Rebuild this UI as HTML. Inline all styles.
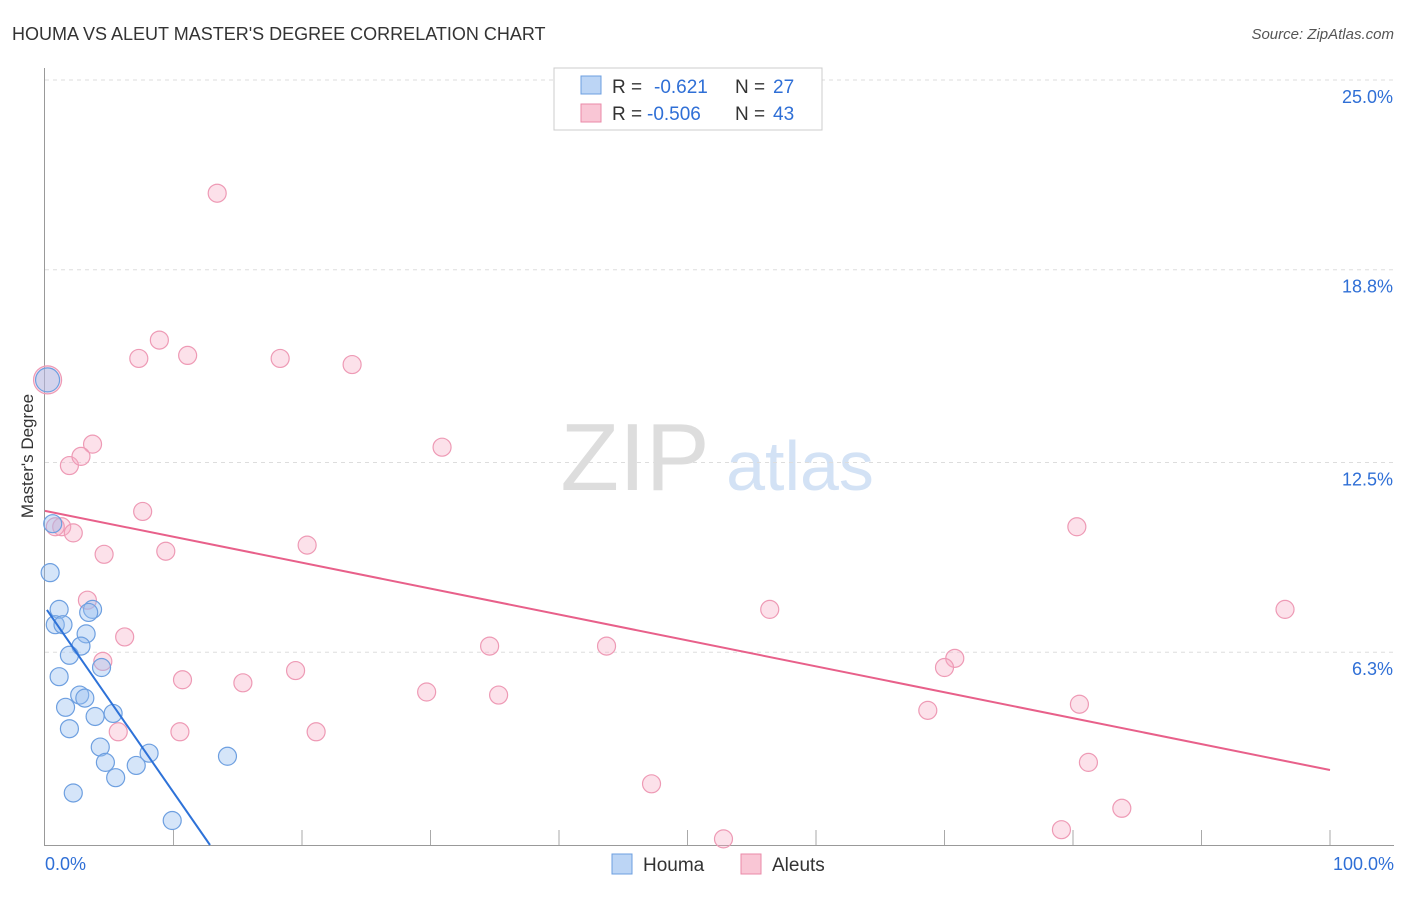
<!DOCTYPE html>
<html><head><meta charset="utf-8"><style>
body{margin:0;background:#fff;font-family:"Liberation Sans",sans-serif;}
svg text{font-family:"Liberation Sans",sans-serif;}
</style></head><body>
<svg id="c" width="1406" height="892">
<text x="12" y="40" font-size="18" fill="#333">HOUMA VS ALEUT MASTER'S DEGREE CORRELATION CHART</text>
<text x="1394" y="39" font-size="15" fill="#555" font-style="italic" text-anchor="end">Source: ZipAtlas.com</text>
<text x="33" y="456" font-size="17" fill="#333" transform="rotate(-90 33 456)" text-anchor="middle">Master's Degree</text>
<g><text x="635" y="490" font-size="96" fill="#ddd" font-family="Liberation Serif" text-anchor="middle">ZIP</text><text x="800" y="490" font-size="70" fill="#d3e2f5" text-anchor="middle">atlas</text></g>
<g id="grid"></g><g id="axes"></g><g id="pts"></g><g id="lines"></g>
<g>
<rect x="554" y="68" width="268" height="62" fill="#fff" stroke="#ccc"/>
<rect x="581" y="76" width="20" height="18" fill="#bcd5f5" stroke="#6c9fe0"/>
<rect x="581" y="104" width="20" height="18" fill="#f9c6d5" stroke="#ea8aa8"/>
<text y="93" font-size="19" fill="#333"><tspan x="612">R =</tspan><tspan x="654" fill="#2f6fd6">-0.621</tspan><tspan x="735">N =</tspan><tspan x="773" fill="#2f6fd6">27</tspan></text>
<text y="120" font-size="19" fill="#333"><tspan x="612">R =</tspan><tspan x="647" fill="#2f6fd6">-0.506</tspan><tspan x="735">N =</tspan><tspan x="773" fill="#2f6fd6">43</tspan></text>
</g>
<g>
<rect x="612" y="854" width="20" height="20" fill="#bcd5f5" stroke="#6c9fe0"/>
<text x="643" y="871" font-size="19" fill="#333">Houma</text>
<rect x="741" y="854" width="20" height="20" fill="#f9c6d5" stroke="#ea8aa8"/>
<text x="772" y="871" font-size="19" fill="#333">Aleuts</text>
</g>
</svg>
<script>
const yTicks=[25.0,18.8,12.5,6.3];
const yTickLabels=["25.0%","18.8%","12.5%","6.3%"];
const houmaX=[0.6,0.4,1.1,0.8,1.4,3.7,3.4,3.2,2.8,1.9,1.1,4.4,2.7,3.1,1.6,3.9,5.3,1.9,4.3,8.1,4.7,7.1,5.5,14.2,2.2,9.9,0.2];
const houmaY=[10.5,8.9,7.7,7.2,7.2,7.7,7.6,6.9,6.5,6.2,5.5,5.8,4.9,4.8,4.5,4.2,4.3,3.8,3.2,3.0,2.7,2.6,2.2,2.9,1.7,0.8,15.2];
const aleutX=[13.4,8.9,7.3,11.1,18.3,23.9,0.2,3.7,1.9,2.8,30.9,7.6,1.3,2.2,9.4,4.6,20.4,80.3,3.3,56.4,96.5,6.2,4.5,34.6,43.7,70.8,70.0,19.5,10.7,15.4,29.7,35.3,68.7,80.5,10.5,21.1,5.7,81.2,47.2,83.8,79.1,52.8,0.8];
const aleutY=[21.3,16.5,15.9,16.0,15.9,15.7,15.2,13.1,12.4,12.7,13.0,10.9,10.4,10.2,9.6,9.5,9.8,10.4,8.0,7.7,7.7,6.8,6.0,6.5,6.5,6.1,5.8,5.7,5.4,5.3,5.0,4.9,4.4,4.6,3.7,3.7,3.7,2.7,2.0,1.2,0.5,0.2,10.4];
const aleutTrend=[10.92,2.45];
const houmaTrend=[[0.15,7.68],[12.84,0]];
const NS="http://www.w3.org/2000/svg";
const X=v=>45+v*12.85, Y=v=>845-v*30.6;
function mk(t,a,p){const e=document.createElementNS(NS,t);for(const k in a)e.setAttribute(k,a[k]);p.appendChild(e);return e;}
const grid=document.getElementById('grid'),axes=document.getElementById('axes'),pts=document.getElementById('pts'),lines=document.getElementById('lines');
yTicks.forEach((t,i)=>{
 const l=mk('line',{x1:45,x2:1394,y1:Y(t),y2:Y(t),stroke:'#ddd','stroke-dasharray':'4 4'},grid);
 
 
 const tx=mk('text',{x:1393,y:Y(t)+23,'font-size':18,fill:'#2f6fd6','text-anchor':'end'},grid);
 tx.textContent=yTickLabels[i];
 
 
});
const ya=mk('line',{x1:44.5,x2:44.5,y1:68,y2:845,stroke:'#999'},axes);


const xa=mk('line',{x1:44,x2:1394,y1:845.5,y2:845.5,stroke:'#999'},axes);


for(let i=1;i<=10;i++){const tk=mk('line',{x1:X(i*10),x2:X(i*10),y1:830,y2:845,stroke:'#aaa'},axes);
 
 }
[["0.0%",45,'start'],["100.0%",1394,'end']].forEach(d=>{const t=mk('text',{x:d[1],y:870,'font-size':18,fill:'#2f6fd6','text-anchor':d[2]},axes);t.textContent=d[0];
 
 });
aleutX.forEach((x,i)=>{const c=mk('circle',{cx:X(x),cy:Y(aleutY[i]),r:i==6?14:9,fill:'rgba(246,170,195,0.35)',stroke:'#ee9ab5','stroke-width':1.2},pts);
 
 });
houmaX.forEach((x,i)=>{const c=mk('circle',{cx:X(x),cy:Y(houmaY[i]),r:i==26?12:9,fill:'rgba(150,190,240,0.4)',stroke:'#6d9fe0','stroke-width':1.2},pts);
 
 });
const pl=mk('line',{x1:X(0),y1:Y(aleutTrend[0]),x2:X(100),y2:Y(aleutTrend[1]),stroke:'#e8608a','stroke-width':2},lines);


const bl=mk('line',{x1:X(houmaTrend[0][0]),y1:Y(houmaTrend[0][1]),x2:X(houmaTrend[1][0]),y2:Y(houmaTrend[1][1]),stroke:'#2e72d8','stroke-width':2},lines);


</script>
</body></html>
